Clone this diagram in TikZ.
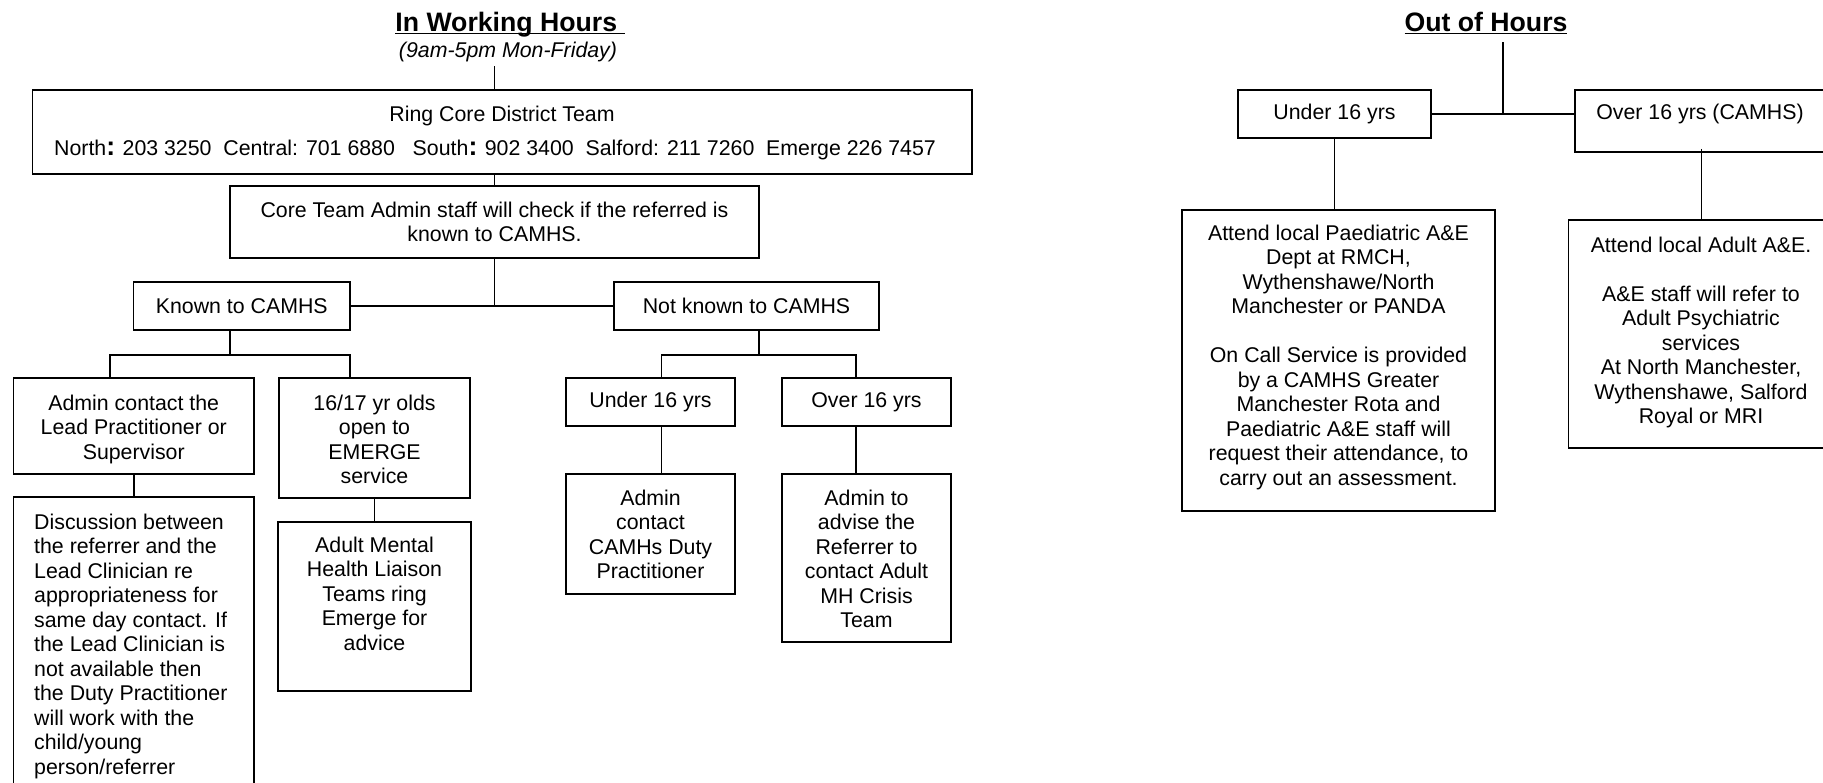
\documentclass[tikz,border=0pt]{standalone}
\usepackage{fontspec}
\setmainfont{Liberation Sans}
\newcommand\bodyfnt{\fontsize{21.33}{24.5}\selectfont}
\newcommand\ttlfnt{\fontsize{26.67}{30}\selectfont\bfseries}
\newcommand\bigcolon{{\fontsize{26.67}{26}\selectfont\bfseries :~}}
\newcommand\ulin[1]{\setbox0\hbox{#1}\rlap{\rule[-3.3pt]{\wd0}{1.3pt}}\box0}
\begin{document}
\begin{tikzpicture}[x=1pt,y=-1pt,
  box/.style={draw, line width=1.5pt, rectangle, inner sep=0pt, font=\bodyfnt},
  tx/.style={inner sep=0pt, align=center, anchor=north, font=\bodyfnt},
  ttl/.style={inner sep=0pt, anchor=base, font=\ttlfnt},
  conn/.style={line width=1.5pt}]
\useasboundingbox (0,0) rectangle (1823,782);
\fill[white] (0,0) rectangle (1823,782);
\clip (0,0) rectangle (1823,782);

% ---------- In working hours ----------
\node[ttl] (wtitle) at (510,31) {\ulin{In Working Hours\ }};
\node[inner sep=0pt, anchor=base, font=\bodyfnt\itshape] (wsub) at (508,57.5) {(9am-5pm Mon-Friday)};
\coordinate (t1) at (494.5,66);

\node[box, minimum width=939.5, minimum height=84] (ring) at (502.25,132) {};
\node[inner sep=0pt, anchor=base, font=\bodyfnt] (ringa) at (502,121.5) {Ring Core District Team};
\node[inner sep=0pt, anchor=base west, font=\bodyfnt] (ringb) at (54,155.5)
  {North\bigcolon 203 3250~~Central: 701 6880~~~South\bigcolon 902 3400~~Salford: 211 7260~~Emerge 226 7457};

\node[box, minimum width=529, minimum height=72] (core) at (494.5,222) {};
\node[tx] (coret) at (494.5,200) {\strut Core Team Admin staff will check if the referred is\\known to CAMHS.};

\node[box, minimum width=216.5, minimum height=48] (known) at (241.75,306) {Known to CAMHS};
\node[box, minimum width=265, minimum height=48] (notknown) at (746.5,306) {Not known to CAMHS};

\node[box, minimum width=240.5, minimum height=96] (admin) at (133.75,426) {};
\node[tx] (admint) at (133.75,393) {\strut Admin contact the\\Lead Practitioner or\\Supervisor};

\node[box, minimum width=191, minimum height=120] (sixteen) at (374.5,438) {};
\node[tx] (sixteent) at (374.5,393) {\strut 16/17 yr olds\\open to\\EMERGE\\service};

\node[box, minimum width=169, minimum height=48] (under) at (650.5,402) {Under 16 yrs};
\node[box, minimum width=169, minimum height=48] (over) at (866.5,402) {Over 16 yrs};

\node[box, minimum width=240.3, minimum height=323] (disc) at (133.85,658.5) {};
\node[tx, align=left, anchor=north west] (disct) at (34,512) {\strut Discussion between\\the referrer and the\\Lead Clinician re\\appropriateness for\\same day contact. If\\the Lead Clinician is\\not available then\\the Duty Practitioner\\will work with the\\child/young\\person/referrer};

\node[box, minimum width=193, minimum height=169] (adult) at (374.5,606.5) {};
\node[tx] (adultt) at (374.5,535) {\strut Adult Mental\\Health Liaison\\Teams ring\\Emerge for\\advice};

\node[box, minimum width=169, minimum height=120] (duty) at (650.5,534) {};
\node[tx] (dutyt) at (650.5,488) {\strut Admin\\contact\\CAMHs Duty\\Practitioner};

\node[box, minimum width=169, minimum height=168] (advise) at (866.5,558) {};
\node[tx] (adviset) at (866.5,488) {\strut Admin to\\advise the\\Referrer to\\contact Adult\\MH Crisis\\Team};

% connectors (left)
\draw[conn] (t1) -- (t1 |- ring.north);
\draw[conn] (core.north |- ring.south) -- (core.north);
\draw[conn] (core.south) -- (core.south |- known.east);
\draw[conn] (known.east) -- (notknown.west);
\coordinate (kj) at (230,355);
\coordinate (kl) at (110,355);
\coordinate (kr) at (350,355);
\draw[conn] (kj |- known.south) -- (kj);
\draw[conn] (kl |- admin.north) -- (kl) -- (kr) -- (kr |- sixteen.north);
\draw[conn] (admin.south) -- (admin.south |- disc.north);
\draw[conn] (sixteen.south) -- (adult.north);
\coordinate (nj) at (759,355);
\coordinate (nl) at (661.5,355);
\coordinate (nr) at (856,355);
\draw[conn] (nj |- notknown.south) -- (nj);
\draw[conn] (nl |- under.north) -- (nl) -- (nr) -- (nr |- over.north);
\draw[conn] (nl |- under.south) -- (nl |- duty.north);
\draw[conn] (nr |- over.south) -- (nr |- advise.north);

% ---------- Out of hours ----------
\node[ttl] (otitle) at (1486,31) {\ulin{Out of Hours}};
\coordinate (t2) at (1503,42);

\node[box, minimum width=193, minimum height=48] (ounder) at (1334.5,114) {Under 16 yrs};
\node[box, minimum width=251, minimum height=62] (oover) at (1700.5,121) {};
\node[inner sep=0pt, font=\bodyfnt] (oovert) at (1700,114) {Over 16 yrs (CAMHS)};

\node[box, minimum width=313, minimum height=301] (paed) at (1338.5,360.5) {};
\node[tx] (paedt) at (1338.5,223) {\strut Attend local Paediatric A\&E\\Dept at RMCH,\\Wythenshawe/North\\Manchester or PANDA\\[24.5pt]On Call Service is provided\\by a CAMHS Greater\\Manchester Rota and\\Paediatric A\&E staff will\\request their attendance, to\\carry out an assessment.};

\node[box, minimum width=265.5, minimum height=228] (adultae) at (1701.25,334) {};
\node[tx] (adultaet) at (1701,235) {\strut Attend local Adult A\&E.\\[24.5pt]A\&E staff will refer to\\Adult Psychiatric\\services\\At North Manchester,\\Wythenshawe, Salford\\Royal or MRI};

% connectors (right)
\draw[conn] (t2) -- (t2 |- ounder.east);
\draw[conn] (ounder.east) -- (ounder.east -| oover.west);
\draw[conn] (ounder.south) -- (ounder.south |- paed.north);
\draw[conn] ([yshift=4pt]oover.south -| adultae.north) -- (adultae.north);
\end{tikzpicture}
\end{document}
